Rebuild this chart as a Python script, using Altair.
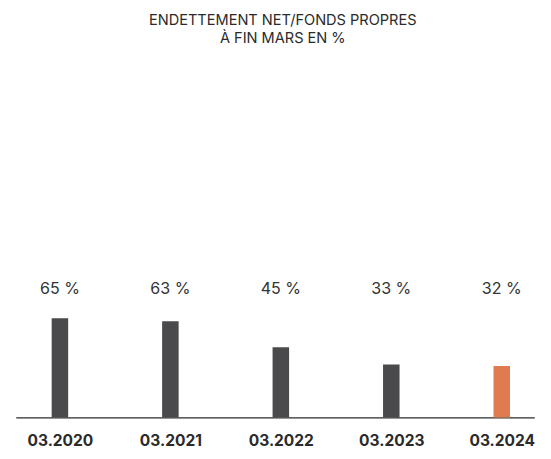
import altair as alt
import pandas as pd

periods = ["03.2020", "03.2021", "03.2022", "03.2023", "03.2024"]
values = [65, 63, 45, 33, 32]
labels = ["65 %", "63 %", "45 %", "33 %", "32 %"]
colors = ["#4a4a4c", "#4a4a4c", "#4a4a4c", "#4a4a4c", "#df7b4f"]

df = pd.DataFrame({"period": periods, "value": values, "label": labels, "color": colors})

FONT = "Inter"

xenc = alt.X(
    "period:N",
    sort=periods,
    scale=alt.Scale(type="point", padding=0.347, align=0.576),
    axis=alt.Axis(
        title=None,
        labelAngle=0,
        labelFont=FONT,
        labelFontSize=16,
        labelFontWeight="bold",
        labelColor="#2b2b2b",
        labelPadding=16,
        ticks=False,
        domainColor="#2b2b2b",
        domainWidth=1.2,
        grid=False,
    ),
)

bars = alt.Chart(df).mark_bar(size=17).encode(
    x=xenc,
    y=alt.Y("value:Q", scale=alt.Scale(domain=[-3.7, 213.8], zero=False, nice=False), axis=None),
    y2=alt.datum(-3.7),
    color=alt.Color("color:N", scale=None),
)

text = alt.Chart(df).mark_text(font=FONT, fontSize=16.5, color="#333333", baseline="middle").encode(
    x=alt.X("period:N", sort=periods),
    y=alt.value(191),
    text="label:N",
)

chart = (
    alt.layer(bars, text)
    .properties(
        width=534,
        height=323,
        autosize=alt.AutoSizeParams(type="none"),
        padding={"left": 8, "top": 92, "right": 9, "bottom": 28},
        title=alt.TitleParams(
            text=["ENDETTEMENT NET/FONDS PROPRES", "À FIN MARS EN %"],
            font=FONT,
            fontSize=15,
            fontWeight="normal",
            color="#2b2b2b",
            anchor="middle",
            dx=8,
            offset=60,
            lineHeight=18,
        ),
    )
    .configure_view(stroke=None)
)

chart.save("out.html", embed_options={"renderer": "svg", "actions": False})
